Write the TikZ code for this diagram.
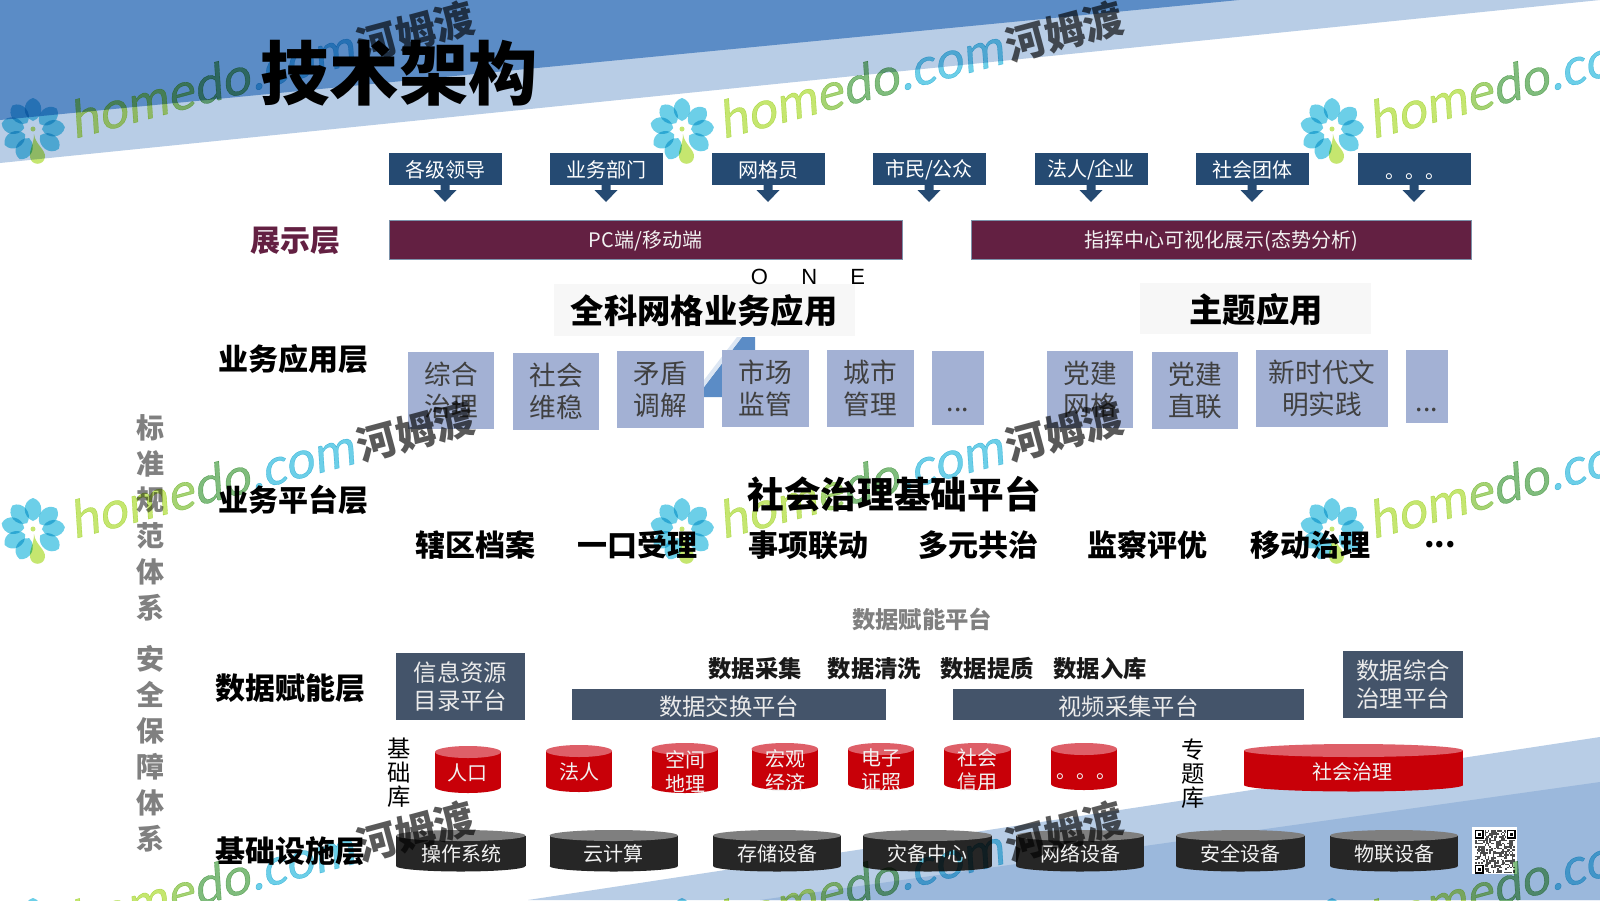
\documentclass[tikz,border=0pt]{standalone}
\usepackage{fontspec}
\setmainfont{Noto Sans CJK SC}
\newfontfamily\latinfont{Liberation Sans}
\newfontfamily\markfont[FakeSlant=0.2,FakeBold=0.6]{Lato}
\definecolor{topdark}{HTML}{5B8CC6}
\definecolor{toplight}{HTML}{B8CDE6}
\definecolor{lowdark}{HTML}{9BB8DC}
\definecolor{rolebg}{HTML}{254A72}
\definecolor{showbg}{HTML}{632042}
\definecolor{appbg}{HTML}{A3B1D4}
\definecolor{databg}{HTML}{44546A}
\definecolor{redbody}{HTML}{C80008}
\definecolor{redtop}{HTML}{DE5F68}
\definecolor{blackbody}{HTML}{262626}
\definecolor{blacktop}{HTML}{7F7F7F}
\definecolor{petal}{HTML}{6CCFE8}
\definecolor{leafa}{HTML}{C5E66F}
\definecolor{leafb}{HTML}{A5D372}
\definecolor{leafc}{HTML}{7FBC7C}
\tikzset{
  wh/.style 2 args={minimum width=#1*0.75pt, minimum height=#2*0.75pt, inner sep=0pt, outer sep=0pt},
  lower/.style={execute at begin node={\rule{0pt}{#1em}}},
  rolebox/.style={fill=rolebg, text=white, lower=0.95, font=\fontsize{15}{18}\selectfont},
  showbox/.style={fill=showbg, draw=rolebg!60, text=white!95!black, lower=1.02, font=\fontsize{15}{18}\selectfont},
  appbox/.style={fill=appbg, text=black!75, align=center, font=\fontsize{20}{24}\selectfont},
  panel/.style={fill=black!3},
  databox/.style={fill=databg, text=white!92!black, align=center, lower=1.02, font=\fontsize{17.5}{21}\selectfont},
  layer/.style={text=black, font=\fontsize{22.5}{27}\selectfont\bfseries},
  heading/.style={text=black, font=\fontsize{25}{30}\selectfont\bfseries},
  platitem/.style={text=black, font=\fontsize{22.5}{27}\selectfont\bfseries},
  stepitem/.style={text=black!90, font=\fontsize{17.5}{21}\selectfont\bfseries},
  sidetext/.style={text=black!50, align=center, font=\fontsize{21}{27}\selectfont\bfseries},
  stacktext/.style={text=black, align=center, font=\fontsize{17.5}{18}\selectfont},
  cantext/.style={text=white!95!black, align=center, font=\fontsize{15}{18}\selectfont},
}
% one cylinder: fills, x1, x2, y of top ellipse, y of bottom ellipse, half height
\newcommand\drum[7]{
  \fill[#1] ({(#3+#4)/2},#6) ellipse ({(#4-#3)/2} and #7);
  \fill[#1] (#3,#5) rectangle (#4,#6);
  \fill[#2] ({(#3+#4)/2},#5) ellipse ({(#4-#3)/2} and #7);
}
\newcommand\downtip[1]{
  \fill[rolebg] (#1.south) ++(-4.5,-1) -- ++(0,6) -- ++(-7,0) -- ++(11.5,12) -- ++(11.5,-12) -- ++(-7,0) -- ++(0,-6) -- cycle;
}
% watermark with the flower centre at #1,#2
\newcommand\homemark[2]{
  \begin{scope}[shift={(#1,#2)}, blend mode=multiply]
    \foreach \a in {90,42,5,-36,-115,-152,168,130}
      \fill[petal,rotate=\a] (9,0) .. controls (13,11) and (29,11) .. (32,0) .. controls (29,-11) and (13,-11) .. (9,0);
    \fill[leafa] (1,4) .. controls (2,14) and (13,20) .. (12,27) .. controls (11,36) and (-2,36) .. (-3,27) .. controls (-4,20) and (1,14) .. (1,4);
    \fill[leafa] (0,-1) circle (2.5);
    \node[anchor=base west, rotate=15, inner sep=0pt, font=\markfont\fontsize{38.5}{40}\selectfont] (hm) at (41,9)
      {\textcolor{leafa}{hom}\textcolor{leafb}{e}\textcolor{leafc}{do}};
    \node[anchor=base west, rotate=15, inner sep=0pt, text=petal, font=\markfont\fontsize{38.5}{40}\selectfont] (cm) at (hm.base east) {.com};
    \node[anchor=base west, rotate=15, inner sep=0pt, xshift=3pt, text=black!65, font=\fontsize{30}{32}\selectfont\bfseries] (hz) at (cm.base east) {河姆渡};
  \end{scope}
}

\begin{document}
\begin{tikzpicture}[x=0.75pt, y=-0.75pt]
\clip (0,0) rectangle (1600,900);
\fill[white] (0,0) rectangle (1600,900);
% background bands
\fill[toplight] (0,0) -- (1600,0) -- (0,163) -- cycle;
\fill[topdark] (0,0) -- (1239,0) -- (0,120) -- cycle;
\fill[toplight] (1600,737) -- (1600,900) -- (528,900) -- cycle;
\fill[lowdark] (1600,782) -- (1600,900) -- (760,900) -- cycle;
\fill[topdark] (704,397) -- (704,387) -- (742,337) -- (755,337) -- (755,397) -- cycle;
\fill[toplight!50] (704,387) -- (742,337) -- (737,337) -- (704,380) -- cycle;

\node[font=\fontsize{52}{60}\selectfont\bfseries] (title) at (399,73) {技术架构};

% users
\node[rolebox, wh={113}{32}] (r1) at (445,169) {各级领导};
\node[rolebox, wh={113}{32}] (r2) at (606,169) {业务部门};
\node[rolebox, wh={113}{32}] (r3) at (768,169) {网格员};
\node[rolebox, wh={113}{32}] (r4) at (929,169) {市民/公众};
\node[rolebox, wh={113}{32}] (r5) at (1091,169) {法人/企业};
\node[rolebox, wh={113}{32}] (r6) at (1252,169) {社会团体};
\node[fill=rolebg, wh={113}{32}] (r7) at (1414,169) {};
\node[text=white, font=\fontsize{15}{18}\selectfont, inner sep=0pt] (r7t) at (1415,177) {。。。};
\downtip{r1}
\downtip{r2}
\downtip{r3}
\downtip{r4}
\downtip{r5}
\downtip{r6}
\downtip{r7}

% display layer
\node[layer, text=showbg] (showlabel) at (295,241) {展示层};
\node[showbox, wh={513}{39}] (pc) at (645.5,239.5) {PC端/移动端};
\node[showbox, wh={500}{39}] (command) at (1221,239.5) {指挥中心可视化展示(态势分析)};

% application layer
\node[layer] (applabel) at (293,359) {业务应用层};
\node[panel, wh={301}{52}] (gridpanel) at (704.5,310) {};
\node[font=\latinfont\fontsize{16.5}{18}\selectfont, inner sep=0pt] (one) at (808,277) {O\hspace{25pt}N\hspace{25pt}E};
\node[heading] (gridhead) at (704,311) {全科网格业务应用};
\node[panel, wh={231}{51}] (themepanel) at (1255.5,308.5) {};
\node[heading] (themehead) at (1256,310) {主题应用};
\node[appbox, wh={86}{77}] (a1) at (451,390.5) {综合\\治理};
\node[appbox, wh={86}{77}] (a2) at (556,391.5) {社会\\维稳};
\node[appbox, wh={87}{77}] (a3) at (660.5,389.5) {矛盾\\调解};
\node[appbox, wh={87}{77}] (a4) at (765.5,388.5) {市场\\监管};
\node[appbox, wh={87}{77}] (a5) at (870.5,388.5) {城市\\管理};
\node[fill=appbg, wh={52}{74}] (a6) at (958,388) {};
\node[text=black!75, font=\fontsize{20}{24}\selectfont, inner sep=0pt] (a6t) at (958,410) {...};
\node[appbox, wh={86}{77}] (b1) at (1090,389.5) {党建\\网格};
\node[appbox, wh={86}{77}] (b2) at (1195,390.5) {党建\\直联};
\node[appbox, wh={132}{77}] (b3) at (1322,388.5) {新时代文\\明实践};
\node[fill=appbg, wh={42}{73}] (b4) at (1427,386.5) {};
\node[text=black!75, font=\fontsize{20}{24}\selectfont, inner sep=0pt] (b4t) at (1427,410) {...};

% platform layer
\node[layer] (platlabel) at (293,500) {业务平台层};
\node[heading, font=\fontsize{27.5}{30}\selectfont\bfseries] (plathead) at (894,494) {社会治理基础平台};
\node[platitem] (p1) at (475,545) {辖区档案};
\node[platitem] (p2) at (637,545) {一口受理};
\node[platitem] (p3) at (808,545) {事项联动};
\node[platitem] (p4) at (978,545) {多元共治};
\node[platitem] (p5) at (1147,545) {监察评优};
\node[platitem] (p6) at (1310,545) {移动治理};
\node[platitem] (p7) at (1440,545) {...};

% side texts
\node[sidetext] (side1) at (150,517.5) {标\\准\\规\\范\\体\\系};
\node[sidetext] (side2) at (150,748.5) {安\\全\\保\\障\\体\\系};

% data layer
\node[layer] (datalabel) at (290,688) {数据赋能层};
\node[text=black!50, font=\fontsize{17.5}{21}\selectfont\bfseries] (datahead) at (922,619) {数据赋能平台};
\node[stepitem] (s1) at (755,669) {数据采集};
\node[stepitem] (s2) at (874.5,669) {数据清洗};
\node[stepitem] (s3) at (987,669) {数据提质};
\node[stepitem] (s4) at (1100,669) {数据入库};
\node[databox, wh={129}{67}] (d1) at (460.5,686.5) {信息资源\\目录平台};
\node[databox, wh={314}{31}] (d2) at (729,704.5) {数据交换平台};
\node[databox, wh={351}{31}] (d3) at (1128.5,704.5) {视频采集平台};
\node[databox, wh={120}{67}] (d4) at (1403,684.5) {数据综合\\治理平台};

% stores
\node[stacktext] (basestack) at (399,773) {基\\础\\库};
\node[stacktext] (themestack) at (1193,774) {专\\题\\库};
\drum{redbody}{redtop}{435}{501}{752}{787}{6}
\drum{redbody}{redtop}{546}{612}{751}{786}{6}
\drum{redbody}{redtop}{651.5}{718}{749}{787}{6}
\drum{redbody}{redtop}{751.5}{818}{749}{784}{6}
\drum{redbody}{redtop}{848}{914}{749}{784}{6}
\drum{redbody}{redtop}{944}{1011}{749}{784}{6}
\drum{redbody}{redtop}{1051}{1117}{749}{784}{6}
\drum{redbody}{redtop}{1244}{1463}{750.5}{785}{6.5}
\node[cantext] (c1) at (467,773) {人口};
\node[cantext] (c2) at (579,772) {法人};
\node[cantext] (c3) at (685,772) {空间\\地理};
\node[cantext] (c4) at (785,771) {宏观\\经济};
\node[cantext] (c5) at (881,770) {电子\\证照};
\node[cantext] (c6) at (977.5,770) {社会\\信用};
\node[cantext] (c7) at (1086,777) {。。。};
\node[cantext] (c8) at (1352.5,772) {社会治理};

% infrastructure layer
\node[layer] (baselabel) at (290,851) {基础设施层};
\drum{blackbody}{blacktop}{396}{525.5}{835.5}{866}{5.5}
\drum{blackbody}{blacktop}{549.5}{678}{835.5}{866}{5.5}
\drum{blackbody}{blacktop}{713}{841}{835.5}{866}{5.5}
\drum{blackbody}{blacktop}{863}{992}{835.5}{866}{5.5}
\drum{blackbody}{blacktop}{1016}{1144}{835.5}{866}{5.5}
\drum{blackbody}{blacktop}{1176}{1305}{835.5}{866}{5.5}
\drum{blackbody}{blacktop}{1330}{1458}{835.5}{866}{5.5}
\node[cantext] (i1) at (461,854) {操作系统};
\node[cantext] (i2) at (613,854) {云计算};
\node[cantext] (i3) at (777,854) {存储设备};
\node[cantext] (i4) at (927,854) {灾备中心};
\node[cantext] (i5) at (1080,854) {网络设备};
\node[cantext] (i6) at (1240,854) {安全设备};
\node[cantext] (i7) at (1394,854) {物联设备};

% code square
\fill[white] (1472,827) rectangle (1517,874);
\pgfmathsetseed{7}
\foreach \i in {0,...,24}
  \foreach \j in {0,...,26} {
    \pgfmathrandominteger{\qrbit}{0}{1}
    \ifnum\qrbit=1 \fill[black!70] ({1475+\i*1.6},{830+\j*1.6}) rectangle ++(1.6,1.6); \fi
  }
\fill[white] (1474,829) rectangle (1485,840);
\fill[white] (1506,829) rectangle (1516,840);
\fill[white] (1474,864) rectangle (1485,874);
\draw[black, line width=1.2pt] (1475.5,830.5) rectangle (1483,838);
\draw[black, line width=1.2pt] (1507.5,830.5) rectangle (1515,838);
\draw[black, line width=1.2pt] (1475.5,865.5) rectangle (1483,873);
\fill[black] (1478,833) rectangle (1480.5,835.5);
\fill[black] (1510,833) rectangle (1512.5,835.5);
\fill[black] (1478,868) rectangle (1480.5,870.5);

% watermarks
\homemark{33}{130}
\homemark{682}{130}
\homemark{1332}{130}
\homemark{33}{530}
\homemark{682}{530}
\homemark{1332}{530}
\homemark{33}{930}
\homemark{682}{930}
\homemark{1332}{930}
\end{tikzpicture}
\end{document}
